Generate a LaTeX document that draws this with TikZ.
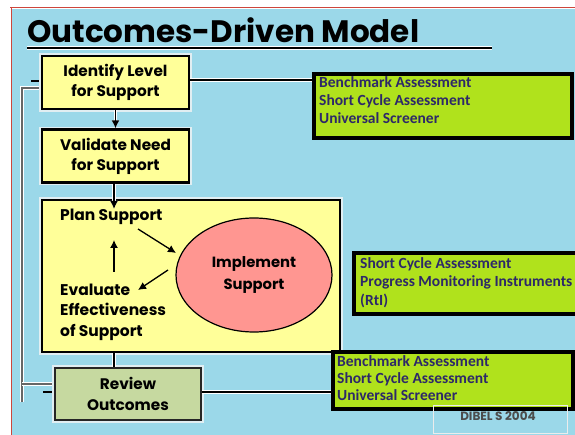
\documentclass[tikz,border=0pt]{standalone}
\usepackage{fontspec}
\setsansfont{Poppins}
\newfontfamily\calfont{Carlito}
\usetikzlibrary{arrows.meta,shapes.geometric,calc}
\definecolor{bgblue}{RGB}{155,216,233}
\definecolor{boxyellow}{RGB}{255,255,153}
\definecolor{limegreen}{RGB}{176,226,28}
\definecolor{sage}{RGB}{198,217,160}
\definecolor{salmon}{RGB}{255,150,145}
\definecolor{navytext}{RGB}{45,40,105}
\definecolor{redline}{RGB}{205,70,60}
\definecolor{glow}{RGB}{225,238,242}
\begin{document}
\begin{tikzpicture}[x=1pt,y=-1pt,
  halo/.style={preaction={draw=white,line width=#1}},
  halo/.default=4pt,
  ybox/.style={draw=black,line width=2.2pt,fill=boxyellow,align=center,
    preaction={draw=glow,line width=5.5pt},
    font=\sffamily\bfseries\fontsize{15.3}{20}\selectfont,inner sep=0pt,
    minimum width=147pt,minimum height=53pt},
  gbox/.style={draw=black,line width=4pt,fill=limegreen,inner sep=0pt},
  gtext/.style={text=navytext,align=left,inner sep=0pt,
    font=\calfont\bfseries\fontsize{15.5}{#1}\selectfont},
  gtext/.default=18,
  itext/.style={align=left,inner sep=0pt,
    font=\sffamily\bfseries\fontsize{15.5}{20.5}\selectfont},
  conn/.style={draw=black,line width=1.6pt,halo=3.5pt},
  arr/.style={-{Latex[length=8pt,width=8pt]},line width=1.3pt},
  fb/.style={draw=black!60,line width=1.3pt,halo=4pt}]
\clip (0,0) rectangle (575,435);
\fill[white] (0,0) rectangle (575,435);
\fill[bgblue] (12,9) rectangle (575,435);
\draw[redline,line width=1pt] (10,7.5) -- (575,7.5);
\draw[redline,line width=1pt] (11,7) -- (11,435);
% title
\node[anchor=base west,inner sep=0pt,font=\sffamily\bfseries\fontsize{31}{36}\selectfont] (title) at (27,43) {Outcomes-Driven Model};
\coordinate (ulA) at (27,48);
\coordinate (ulB) at (492,48);
\draw[line width=2.6pt,halo=4.5pt] (ulA) -- (ulB);
% feedback line
\coordinate (fbTop) at (22,88);
\coordinate (fbBot) at (22,402);
\coordinate (fbMid) at (22,384);
% boxes
\node[ybox] (id) at (115.5,82.5) {Identify Level\\for Support};
\node[ybox] (val) at (115.5,156) {Validate Need\\for Support};
\node[ybox,minimum width=298pt,minimum height=152pt] (plan) at (191,276) {};
\node[ybox,fill=sage,draw=black!85,minimum width=146pt,minimum height=52pt] (rev) at (128,394) {};
\draw[fb] (fbBot) -- (fbTop) -- (fbTop -| id.west);
\draw[fb] (fbMid) -- (fbMid -| rev.west);
\coordinate (stubA) at (31,81);
\coordinate (stubB) at (43,392);
\draw[line width=2pt] (stubA) -- (stubA -| id.west);
\draw[line width=2pt] (stubB) -- (stubB -| rev.west);
\node[ybox,preaction={}] at (id) {Identify Level\\for Support};
\node[ybox,fill=sage,draw=black!85,minimum width=146pt,minimum height=52pt,
  font=\sffamily\bfseries\fontsize{15.3}{21}\selectfont] at (rev) {Review\\Outcomes};
% inner
\node[itext,anchor=west] (ps) at (60,217) {Plan Support};
\node[itext,anchor=north west] (ev) at (60,283.5) {Evaluate\\Effectiveness\\of Support};
\node[draw=black,line width=1.2pt,fill=salmon,ellipse,minimum width=156pt,minimum height=114pt,inner sep=0pt,align=center,
  font=\sffamily\bfseries\fontsize{14.8}{22}\selectfont] (impl) at (254,275) {Implement\\Support};
\coordinate (a1s) at (138,229);
\coordinate (a1e) at (176,253);
\coordinate (a2s) at (168,270);
\coordinate (a2e) at (138,290);
\coordinate (a3s) at (114,272);
\coordinate (a3e) at (114,240);
\draw[arr] (a1s) -- (a1e);
\draw[arr] (a2s) -- (a2e);
\draw[arr] (a3s) -- (a3e);
% green boxes
\node[gbox,minimum width=258pt,minimum height=64pt] (g1) at (443,106) {};
\node[gbox,minimum width=230pt,minimum height=61pt] (g2) at (469,283.5) {};
\node[gbox,minimum width=240pt,minimum height=57pt] (g3) at (453,380.5) {};
\node[gtext,anchor=north west] at (319,76) {Benchmark Assessment\\Short Cycle Assessment\\Universal Screener};
\node[gtext=18.7,anchor=north west] at (360,257) {Short Cycle Assessment\\Progress Monitoring Instruments\\(RtI)};
\node[gtext=17,anchor=north west] at (337,355) {Benchmark Assessment\\Short Cycle Assessment\\Universal Screener};
% connectors
\draw[conn,arr,line width=1.6pt] (id.south) -- (val.north);
\coordinate (pin) at (114,209);
\draw[conn,arr,line width=1.6pt] (val.south -| pin) -- (pin);
\draw[conn] (plan.south -| pin) -- (rev.north -| pin);
\coordinate (gl1) at (314,80);
\draw[conn,line width=2pt] (gl1 -| id.east) -- (gl1 -| g1.west);
\coordinate (gl3) at (333,392);
\draw[conn,line width=2pt] (gl3 -| rev.east) -- (gl3 -| g3.west);
% redraw box borders over connectors
\node[gbox,minimum width=258pt,minimum height=64pt,fill=none] at (g1) {};
\node[gbox,minimum width=240pt,minimum height=57pt,fill=none] at (g3) {};
% DIBELS
\node[draw=white!85!gray,line width=1pt,minimum width=134pt,minimum height=28pt,inner sep=0pt] (dib) at (500,419) {};
\node[inner sep=0pt,text=black!70,font=\sffamily\bfseries\fontsize{12}{14}\selectfont] (dibt) at (498,416) {DIBEL S 2004};
\end{tikzpicture}
\end{document}
